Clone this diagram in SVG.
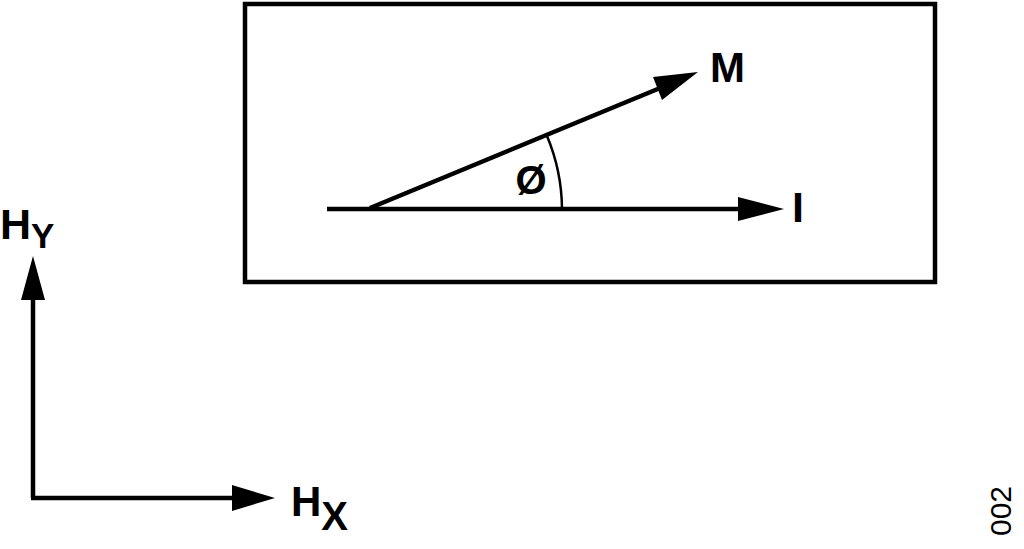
<svg xmlns="http://www.w3.org/2000/svg" width="1024" height="549" viewBox="0 0 1024 549">
<style>
.ln{stroke:#000;stroke-width:4.5;fill:none}
.lbl{font-family:"Liberation Sans",Arial,sans-serif;font-weight:bold;fill:#000}
.ah{fill:#000}
</style>
<rect width="1024" height="549" fill="#fff"/>
<g id="box"><rect x="245" y="4" width="690" height="278" class="ln"/></g>
<g id="connectors">
<line x1="327" y1="209" x2="745" y2="209" class="ln"/>
<polygon class="ah" points="784,209 738,197 738,221"/>
<line x1="370" y1="208" x2="665" y2="86" class="ln"/>
<polygon class="ah" points="698,72 653,77 662,100"/>
<path d="M547,136 A192,192 0 0 1 562,209" stroke="#000" stroke-width="2.5" fill="none"/>
<line x1="33" y1="300" x2="33" y2="498" class="ln"/>
<polygon class="ah" points="33,256 21,300 45,300"/>
<line x1="31" y1="498" x2="240" y2="498" class="ln"/>
<polygon class="ah" points="275,498 232,485 232,511"/>
</g>
<g id="label-M"><text x="710" y="82" class="lbl" font-size="42">M</text></g>
<g id="label-I"><text x="792" y="222" class="lbl" font-size="43">I</text></g>
<g id="label-phi"><text x="531" y="194" class="lbl" font-size="40" text-anchor="middle">Ø</text></g>
<g id="label-HY"><text x="0" y="239" class="lbl" font-size="43">H<tspan font-size="35" dy="9">Y</tspan></text></g>
<g id="label-HX"><text x="291" y="516" class="lbl" font-size="42">H<tspan font-size="40" dy="14">X</tspan></text></g>
<g id="fig-num"><text transform="translate(1011,511) rotate(-90)" font-family="Liberation Sans,Arial,sans-serif" font-size="30" text-anchor="middle">002</text></g>
</svg>
